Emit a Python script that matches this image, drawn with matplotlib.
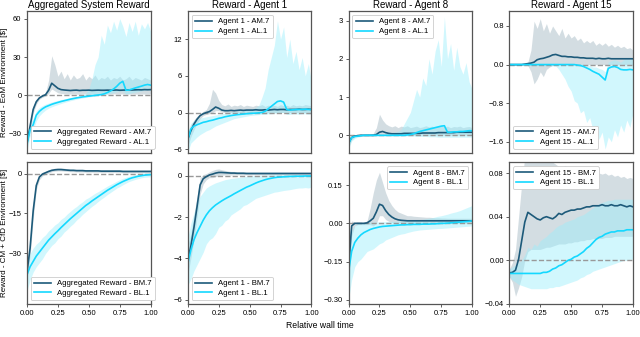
import matplotlib.pyplot as plt
import numpy as np

plt.rcParams['font.family'] = ['Liberation Sans', 'DejaVu Sans']

# relative wall time grid (41 samples)
x = np.linspace(0, 1, 41)

# ---- top row: EoM environment ----
agg_eom_am = [-37, -24, -11, -5, -2, -0.5, 0.5, 4, 9.5, 7.5, 5.5, 4.5, 4.2, 4, 3.8, 4, 4.1, 3.8, 4, 4,
              4.1, 3.9, 4, 4.1, 4, 4, 4.1, 4, 4.1, 4.2, 4, 4.1, 4.2, 4.3, 4.2, 4.3, 4.4, 4.3, 4.5, 4.4, 4.5]
agg_eom_am_lo = [-40, -28, -14, -7, -3, -1.5, -0.5, 1.5, 5, 3.5, 2, 1.5, 1.2, 1, 1, 1.2, 1, 0.8, 1, 1.2,
                 1, 1, 1.2, 1, 1, 1.2, 1, 1, 1.2, 1, 1, 1.2, 1, 1, 1.2, 1, 1, 1.2, 1, 1, 1.2]
agg_eom_am_hi = [-34, -20, -8, -3, -1, 0.5, 2, 12, 31, 24, 15, 19, 13, 17, 12, 16, 13, 14, 17, 12,
                 15, 13, 16, 12, 14, 13, 15, 12, 14, 13, 15, 12, 13, 15, 12, 14, 13, 12, 14, 13, 12]
agg_eom_al = [-38, -27, -23, -15.5, -12.5, -10.5, -9, -8, -7, -6.2, -5.5, -4.8, -4.2, -3.6, -3, -2.5, -2, -1.6, -1.2, -0.9,
              -0.6, -0.3, 0, 0.3, 0.6, 1.2, 2.2, 3.5, 5, 7, 9.5, 11, 4, 4.2, 5, 5.8, 6.5, 7.2, 8, 8.5, 8]
agg_eom_al_lo = [-43, -32, -27, -20, -16, -13.5, -11.5, -10, -9, -8, -7.2, -6.4, -5.6, -4.9, -4.2, -3.6, -3, -2.5, -2, -1.6,
                 -1.2, -0.9, -0.6, -0.3, 0, 0.4, 1, 1.6, 2.2, 3, 3.5, 3.5, 1, 1.5, 2, 2.5, 3, 3.5, 4, 4.5, 4]
agg_eom_al_hi = [-33, -22, -18, -12, -9.5, -8, -6.8, -6, -5.2, -4.5, -3.9, -3.3, -2.8, -2.2, -1.7, -1.2, -0.8, -0.4, 0.2, 1.5,
                 5, 13, 24, 30, 47, 40, 55, 49, 58, 51, 60, 54, 46, 57, 50, 58, 47, 56, 52, 57, 50]

a1_eom_am = [-4.3, -3, -1.9, -1.1, -0.5, -0.2, 0, 0.15, 0.5, 0.9, 0.7, 0.4, 0.3, 0.3, 0.35, 0.3, 0.35, 0.4, 0.35, 0.4,
             0.4, 0.4, 0.45, 0.4, 0.4, 0.45, 0.4, 0.45, 0.5, 0.45, 0.5, 0.5, 0.45, 0.5, 0.5, 0.5, 0.55, 0.5, 0.5, 0.55, 0.5]
a1_eom_am_lo = [-5.5, -4, -2.8, -1.8, -1, -0.5, -0.3, -0.2, 0, 0.3, 0.3, 0.1] + [0] * 29
a1_eom_am_hi = [-3.2, -2, -1.2, -0.6, -0.2, 0.2, 0.5, 1.5, 3.8, 3.2, 2, 1.3, 1.1, 1.4, 1, 1.2, 1.1, 1.3, 1, 1.2,
                1.1, 1, 1.2, 1.1, 1.3, 1, 1.2, 1.1, 1.2, 1, 1.3, 1.1, 1.2, 1, 1.3, 1.1, 1.2, 1.1, 1.3, 1.2, 1.1]
a1_eom_al = [-4.5, -2.7, -2.2, -2, -1.8, -1.6, -1.5, -1.35, -1.25, -1.1, -0.95, -0.85, -0.7, -0.6, -0.5, -0.42, -0.35, -0.3, -0.25, -0.2,
             -0.15, -0.12, -0.1, -0.05, 0, 0.2, 0.6, 1, 1.4, 1.8, 1.9, 1.7, 0.5, 0.4, 0.45, 0.5, 0.5, 0.5, 0.55, 0.5, 0.5]
a1_eom_al_lo = [-6.5, -5, -4.5, -4, -3.6, -3.3, -3, -2.8, -2.5, -2.2, -2, -1.8, -1.6, -1.4, -1.2, -1, -0.9, -0.8, -0.7, -0.6,
                -0.5, -0.45, -0.4, -0.35, -0.3, -0.3, -0.2, -0.2, -0.1, -0.1, 0, 0, -0.3, -0.3, -0.2, -0.2, -0.3, -0.2, -0.2, -0.3, -0.2]
a1_eom_al_hi = [-3, -1.8, -1.3, -1.1, -0.9, -0.8, -0.7, -0.6, -0.5, -0.4, -0.3, -0.2, -0.1, 0, 0.1, 0.15, 0.2, 0.25, 0.3, 0.4,
                0.5, 0.6, 0.8, 1.2, 2.5, 4, 7, 9, 11, 15, 12, 14, 9, 12, 8, 10, 7, 9, 6, 8, 5]

a8_eom_am = [-0.2, -0.06, -0.02, -0.01, 0, 0, 0, 0, 0, 0.02, 0.08, 0.1, 0.07, 0.05, 0.04, 0.04, 0.04, 0.04, 0.05, 0.05,
             0.05, 0.05, 0.05, 0.05, 0.06, 0.06, 0.06, 0.06, 0.06, 0.07, 0.07, 0.07, 0.07, 0.07, 0.07, 0.08, 0.08, 0.08, 0.08, 0.08, 0.08]
a8_eom_am_lo = [-0.3, -0.12, -0.05, -0.03, -0.02, -0.02, -0.02, -0.02, -0.02, -0.01, 0.02, 0.03, 0.02, 0.01] + [0] * 27
a8_eom_am_hi = [-0.1, -0.01, 0.01, 0.01, 0.02, 0.02, 0.02, 0.03, 0.05, 0.2, 0.55, 0.4, 0.3, 0.25, 0.22, 0.25, 0.2, 0.24, 0.22, 0.25,
                0.2, 0.22, 0.24, 0.2, 0.22, 0.25, 0.22, 0.24, 0.2, 0.23, 0.25, 0.22, 0.24, 0.2, 0.23, 0.22, 0.24, 0.2, 0.22, 0.23, 0.2]
a8_eom_al = [-0.22, -0.06, -0.03, -0.02, -0.01, 0, 0, 0, 0, 0, 0, 0, 0, 0, 0, 0, 0, 0, 0, 0.01,
             0.02, 0.04, 0.07, 0.1, 0.12, 0.14, 0.16, 0.18, 0.2, 0.22, 0.24, 0.25, 0.08, 0.08, 0.09, 0.09, 0.1, 0.1, 0.11, 0.12, 0.12]
a8_eom_al_lo = [-0.35, -0.15, -0.08, -0.05, -0.03] + [-0.02] * 17 + [-0.03] * 4 + [-0.04] * 3 + [-0.05] * 12
a8_eom_al_hi = [-0.1, 0.02, 0.02, 0.02, 0.02, 0.02, 0.02, 0.02, 0.02, 0.02, 0.02, 0.02, 0.03, 0.04, 0.05, 0.08, 0.1, 0.15, 0.3, 0.45,
                0.6, 0.9, 1.2, 1.0, 1.5, 1.3, 2.0, 1.6, 2.2, 2.5, 1.8, 3.1, 2.0, 2.4, 1.7, 2.3, 1.8, 1.6, 1.9, 1.4, 1.2]

a15_eom_am = [0, 0, 0, 0, 0, 0.01, 0.02, 0.03, 0.05, 0.1, 0.12, 0.13, 0.15, 0.17, 0.2, 0.21, 0.19, 0.17, 0.17, 0.16,
              0.16, 0.15, 0.15, 0.14, 0.14, 0.13, 0.13, 0.13, 0.12, 0.13, 0.12, 0.12, 0.13, 0.12, 0.12, 0.12, 0.12, 0.12, 0.12, 0.12, 0.12]
a15_eom_am_lo = [-0.01, -0.01, -0.01, -0.01, -0.01, -0.01, -0.02, -0.15, -0.4, -0.3, -0.15, -0.25, -0.1, -0.05, -0.02] + [0] * 26
a15_eom_am_hi = [0.01, 0.01, 0.01, 0.01, 0.01, 0.02, 0.05, 0.3, 0.9, 0.75, 0.95, 0.7, 0.85, 0.65, 0.8, 0.7, 0.6, 0.75, 0.55, 0.65,
                 0.55, 0.6, 0.5, 0.55, 0.45, 0.5, 0.45, 0.5, 0.4, 0.45, 0.4, 0.45, 0.38, 0.42, 0.36, 0.4, 0.35, 0.38, 0.33, 0.35, 0.3]
a15_eom_al = [0] * 22 + [-0.01, -0.02, -0.04, -0.07, -0.1, -0.14, -0.17, -0.2, -0.26, -0.32, -0.08, -0.05, -0.04, -0.06,
                         -0.1, -0.11, -0.11, -0.1, -0.11]
a15_eom_al_lo = [-0.02] * 15 + [-0.03, -0.1, -0.2, -0.3, -0.45, -0.55, -0.75, -0.8, -1.0, -0.95, -1.2, -1.1, -1.35, -1.3, -1.55,
                                -1.4, -1.75, -1.5, -1.6, -1.35, -1.5, -1.25, -1.4, -1.15, -1.3, -1.0]
a15_eom_al_hi = [0.02] * 24 + [0.01, 0, -0.02, -0.05, -0.05, -0.08, -0.1, -0.15, 0.05, 0.08, 0.1, 0.08, 0.05, 0.1, 0.12, 0.1, 0.15]

# ---- bottom row: CM + CfD environment ----
agg_cfd_bm = [-37, -28, -14, -4.5, -1.3, -0.2, 0.3, 0.8, 1.2, 1.4, 1.5, 1.5, 1.4, 1.3, 1.2, 1.2, 1.1, 1.1, 1.1, 1,
              1, 1, 1, 1, 0.9, 0.9, 0.9, 0.9, 0.9, 0.9, 0.9, 0.8, 0.8, 0.8, 0.8, 0.8, 0.8, 0.8, 0.8, 0.8, 0.8]
agg_cfd_bm_lo = [-40, -31, -17, -6, -2.3, -0.9, -0.3, 0.2, 0.7, 0.9, 1, 1, 0.9, 0.8, 0.7, 0.7, 0.6, 0.6, 0.6, 0.5,
                 0.5, 0.5, 0.5, 0.5, 0.4, 0.4, 0.4, 0.4, 0.4, 0.4, 0.4, 0.3, 0.3, 0.3, 0.3, 0.3, 0.3, 0.3, 0.3, 0.3, 0.3]
agg_cfd_bm_hi = [-34, -25, -11, -3, -0.5, 0.5, 0.9, 1.4, 1.8, 2, 2.1, 2.1, 2, 1.8, 1.7, 1.7, 1.6, 1.6, 1.6, 1.5,
                 1.5, 1.5, 1.5, 1.5, 1.4, 1.4, 1.4, 1.4, 1.4, 1.4, 1.4, 1.3, 1.3, 1.3, 1.3, 1.3, 1.3, 1.3, 1.3, 1.3, 1.3]
agg_cfd_bl = [-38, -35, -33, -31, -29.5, -28, -26.5, -25, -23.8, -22.6, -21.5, -20.3, -19.2, -18.1, -17, -16, -15, -14, -13, -12,
              -11.2, -10.3, -9.5, -8.7, -7.9, -7.1, -6.3, -5.6, -4.9, -4.2, -3.6, -3, -2.5, -2, -1.6, -1.3, -1, -0.8, -0.6, -0.5, -0.4]
agg_cfd_bl_lo = [-44, -40, -37, -35, -33.5, -32, -30, -28.5, -27, -26, -24.5, -23.5, -22, -21, -19.8, -18.8, -17.5, -16.5, -15.3, -14.3,
                 -13.3, -12.3, -11.5, -10.5, -9.6, -8.8, -7.9, -7.1, -6.3, -5.5, -4.9, -4.2, -3.6, -3, -2.6, -2.2, -1.9, -1.6, -1.4, -1.3, -1.2]
agg_cfd_bl_hi = [-33, -30, -28, -26.5, -25.5, -24, -23, -21.5, -20.5, -19.3, -18.5, -17.2, -16.4, -15.2, -14.2, -13.2, -12.4, -11.4, -10.6, -9.6,
                 -9, -8.2, -7.4, -6.8, -6.1, -5.4, -4.7, -4.1, -3.5, -2.9, -2.3, -1.8, -1.4, -1, -0.7, -0.4, -0.2, 0, 0.1, 0.2, 0.3]

a1_cfd_bm = [-4.1, -3.4, -2.5, -1.5, -0.45, -0.15, -0.05, 0.03, 0.07, 0.12, 0.15, 0.15, 0.14, 0.13, 0.12, 0.12, 0.11, 0.11, 0.11, 0.1] + [0.1] * 21
a1_cfd_bm_lo = [-4.8, -4, -3.1, -2, -0.9, -0.4, -0.2, -0.1, -0.1, -0.05, 0, 0.02, 0.03, 0.03, 0.03] + [0.04] * 26
a1_cfd_bm_hi = [-3.4, -2.8, -1.9, -1, -0.1, 0.05, 0.1, 0.18, 0.25, 0.3, 0.32, 0.28, 0.25, 0.22, 0.2, 0.2, 0.18, 0.18, 0.18] + [0.17] * 22
a1_cfd_bl = [-4.25, -3.6, -3.1, -2.75, -2.45, -2.15, -1.9, -1.7, -1.55, -1.42, -1.32, -1.22, -1.13, -1.05, -0.97, -0.88, -0.8, -0.72, -0.64, -0.56,
             -0.5, -0.43, -0.36, -0.3, -0.25, -0.2, -0.16, -0.13, -0.1, -0.08, -0.07, -0.06, -0.05, -0.04, -0.04, -0.03, -0.03, -0.03, -0.02, -0.02, -0.02]
a1_cfd_bl_lo = [-5.3, -5, -4.6, -4.3, -4, -3.7, -3.3, -3.1, -3, -2.8, -2.5, -2.4, -2.2, -2.1, -1.9, -1.8, -1.7, -1.6, -1.45, -1.4,
                -1.3, -1.2, -1.1, -1.05, -1, -0.95, -0.9, -0.85, -0.8, -0.78, -0.75, -0.72, -0.7, -0.68, -0.65, -0.62, -0.6, -0.6, -0.58, -0.6, -0.55]
a1_cfd_bl_hi = [-3, -2.3, -1.8, -1.3, -1, -0.8, -0.6, -0.5, -0.42, -0.35, -0.3, -0.25, -0.2, -0.17, -0.14, -0.12, -0.1, -0.08, -0.06, -0.04,
                -0.02, -0.01, 0, 0.01, 0.02, 0.03, 0.03, 0.04, 0.04] + [0.05] * 12

a8_cfd_bm = [-0.18, -0.01, 0, 0, 0, 0, 0.002, 0.01, 0.02, 0.045, 0.075, 0.07, 0.05, 0.035, 0.025, 0.018, 0.014, 0.012, 0.011, 0.01] + [0.01] * 21
a8_cfd_bm_lo = [-0.3, -0.05, -0.01, -0.005, -0.005, -0.005, -0.005, -0.005, -0.01, 0.0, 0.03, 0.03, 0.015, 0.008, 0.004, 0.002, 0.001] + [0] * 24
a8_cfd_bm_hi = [-0.08, 0.01, 0.005, 0.005, 0.005, 0.005, 0.01, 0.06, 0.12, 0.17, 0.2, 0.16, 0.12, 0.09, 0.07, 0.055, 0.045, 0.04, 0.035, 0.03,
                0.03, 0.028, 0.027, 0.026, 0.025, 0.024, 0.024, 0.023, 0.022, 0.022, 0.021, 0.021] + [0.02] * 9
a8_cfd_bl = [-0.19, -0.11, -0.075, -0.058, -0.045, -0.036, -0.03, -0.024, -0.02, -0.017, -0.014, -0.012, -0.011, -0.01, -0.009, -0.008, -0.007, -0.006, -0.006, -0.005,
             -0.005, -0.004, -0.004, -0.004, -0.003, -0.003, -0.003, -0.002, -0.002, -0.001, 0, 0, 0.001, 0.002, 0.003, 0.004, 0.005, 0.006, 0.007, 0.008, 0.01]
a8_cfd_bl_lo = [-0.3, -0.22, -0.17, -0.15, -0.14, -0.125, -0.11, -0.105, -0.1, -0.09, -0.08, -0.075, -0.065, -0.06, -0.055, -0.05, -0.045, -0.042, -0.04, -0.036,
                -0.033, -0.03, -0.028, -0.026, -0.025, -0.024, -0.023, -0.022, -0.021, -0.02, -0.02, -0.019, -0.018, -0.017, -0.016, -0.015, -0.014, -0.013, -0.012, -0.011, -0.01]
a8_cfd_bl_hi = [-0.1, -0.03, -0.01, 0, 0.002, 0.004, 0.005, 0.005, 0.005, 0.005, 0.006, 0.006, 0.007, 0.007, 0.008, 0.008, 0.009, 0.01, 0.01, 0.011,
                0.012, 0.013, 0.014, 0.015, 0.016, 0.018, 0.02, 0.022, 0.025, 0.028, 0.03, 0.033, 0.036, 0.04, 0.043, 0.046, 0.05, 0.055, 0.06, 0.065, 0.07]

a15_cfd_bm = [-0.0115, -0.011, -0.009, 0.001, 0.018, 0.035, 0.044, 0.042, 0.04, 0.038, 0.037, 0.039, 0.04, 0.039, 0.038, 0.04, 0.043, 0.042, 0.044, 0.045,
              0.046, 0.046, 0.047, 0.047, 0.048, 0.049, 0.049, 0.05, 0.05, 0.05, 0.051, 0.05, 0.05, 0.051, 0.05, 0.05, 0.051, 0.05, 0.049, 0.05, 0.049]
a15_cfd_bm_lo = [-0.015, -0.02, -0.033, -0.025, -0.015, 0, 0.008, 0.01, 0.01, 0.01, 0.01, 0.011, 0.012, 0.012, 0.013, 0.014, 0.015, 0.015, 0.015, 0.016,
                 0.016, 0.017, 0.017, 0.018, 0.018, 0.019, 0.019, 0.02, 0.02, 0.02, 0.02, 0.021, 0.021, 0.021] + [0.022] * 7
a15_cfd_bm_hi = [-0.008, -0.002, 0.01, 0.04, 0.07, 0.095, 0.1, 0.1, 0.1, 0.1, 0.095, 0.1, 0.1, 0.095, 0.09, 0.088, 0.086, 0.085, 0.087, 0.085,
                 0.084, 0.085, 0.083, 0.084, 0.082, 0.083, 0.081, 0.08, 0.082, 0.08, 0.079, 0.08, 0.078, 0.079, 0.077, 0.078, 0.076, 0.077, 0.075, 0.076, 0.075]
a15_cfd_bl = [-0.012] * 11 + [-0.011, -0.011, -0.01, -0.008, -0.007, -0.005, -0.004, -0.002, 0.0, 0.001, 0.003, 0.004, 0.006, 0.008, 0.011,
                              0.013, 0.016, 0.019, 0.021, 0.022, 0.024, 0.025, 0.026, 0.026, 0.027, 0.027, 0.027, 0.028, 0.028, 0.028]
a15_cfd_bl_lo = [-0.015, -0.018, -0.02, -0.022, -0.023, -0.024, -0.025, -0.026, -0.026, -0.026, -0.026, -0.026, -0.026, -0.025, -0.025, -0.024, -0.024, -0.023, -0.022, -0.021,
                 -0.02, -0.019, -0.018, -0.016, -0.015, -0.013, -0.012, -0.01, -0.009, -0.008, -0.007, -0.006, -0.005, -0.004, -0.003, -0.002, -0.001, 0, 0, 0.001, 0.001]
a15_cfd_bl_hi = [-0.008, -0.006, -0.004, -0.002, 0, 0.005, 0.012, 0.01, 0.015, 0.013, 0.018, 0.02, 0.022, 0.025, 0.027, 0.03, 0.032, 0.033, 0.035, 0.036,
                 0.037, 0.038, 0.04, 0.041, 0.042, 0.044, 0.046, 0.048, 0.05, 0.052, 0.053, 0.054, 0.055, 0.055] + [0.056] * 7

titles = ['Aggregated System Reward', 'Reward - Agent 1', 'Reward - Agent 8', 'Reward - Agent 15']
names = ['Aggregated Reward', 'Agent 1', 'Agent 8', 'Agent 15']
row_labels = ['Reward - EoM Environment [\\$]', 'Reward - CM + CfD Environment [\\$]']

DARK = '#1d5a7a'
CYAN = '#14d8ff'
DARK_FILL = '#bccbd3'
CYAN_FILL = '#9aeefc'

panels = [
    # (row, col, dark series, cyan series, dark tag, cyan tag, ylim, yticks, fmt, legend loc)
    (0, 0, (agg_eom_am, agg_eom_am_lo, agg_eom_am_hi), (agg_eom_al, agg_eom_al_lo, agg_eom_al_hi), 'AM.7', 'AL.1',
     (-45, 66), [-30, 0, 30, 60], '{:.0f}', 'lower left'),
    (0, 1, (a1_eom_am, a1_eom_am_lo, a1_eom_am_hi), (a1_eom_al, a1_eom_al_lo, a1_eom_al_hi), 'AM.7', 'AL.1',
     (-6.6, 16.6), [-6, 0, 6, 12], '{:.0f}', 'upper left'),
    (0, 2, (a8_eom_am, a8_eom_am_lo, a8_eom_am_hi), (a8_eom_al, a8_eom_al_lo, a8_eom_al_hi), 'AM.7', 'AL.1',
     (-0.46, 3.25), [0, 1, 2, 3], '{:.0f}', 'upper left'),
    (0, 3, (a15_eom_am, a15_eom_am_lo, a15_eom_am_hi), (a15_eom_al, a15_eom_al_lo, a15_eom_al_hi), 'AM.7', 'AL.1',
     (-1.83, 1.11), [-1.6, -0.8, 0.0, 0.8], '{:.1f}', 'lower left'),
    (1, 0, (agg_cfd_bm, agg_cfd_bm_lo, agg_cfd_bm_hi), (agg_cfd_bl, agg_cfd_bl_lo, agg_cfd_bl_hi), 'BM.7', 'BL.1',
     (-49, 4.3), [-30, -15, 0], '{:.0f}', 'lower left'),
    (1, 1, (a1_cfd_bm, a1_cfd_bm_lo, a1_cfd_bm_hi), (a1_cfd_bl, a1_cfd_bl_lo, a1_cfd_bl_hi), 'BM.7', 'BL.1',
     (-6.2, 0.65), [-6, -4, -2, 0], '{:.0f}', 'lower left'),
    (1, 2, (a8_cfd_bm, a8_cfd_bm_lo, a8_cfd_bm_hi), (a8_cfd_bl, a8_cfd_bl_lo, a8_cfd_bl_hi), 'BM.7', 'BL.1',
     (-0.316, 0.24), [-0.30, -0.15, 0.00, 0.15], '{:.2f}', 'upper right'),
    (1, 3, (a15_cfd_bm, a15_cfd_bm_lo, a15_cfd_bm_hi), (a15_cfd_bl, a15_cfd_bl_lo, a15_cfd_bl_hi), 'BM.7', 'BL.1',
     (-0.039, 0.09), [-0.04, 0.00, 0.04, 0.08], '{:.2f}', 'upper left'),
]

fig, axes = plt.subplots(2, 4, figsize=(6.4, 3.37), dpi=100)
fig.subplots_adjust(left=27/640, right=633/640, top=1-11/337, bottom=1-304/337, wspace=0.3, hspace=0.065)

for row, col, dark, cyan, dtag, ctag, ylim, yticks, fmt, loc in panels:
    ax = axes[row, col]
    ax.fill_between(x, dark[1], dark[2], color=DARK_FILL, alpha=0.65, lw=0)
    ax.fill_between(x, cyan[1], cyan[2], color=CYAN_FILL, alpha=0.45, lw=0)
    ax.axhline(0, color='#999999', ls='--', lw=1, zorder=1)
    ax.plot(x, dark[0], color=DARK, lw=1.2, label=f'{names[col]} - {dtag}')
    ax.plot(x, cyan[0], color=CYAN, lw=1.2, label=f'{names[col]} - {ctag}')
    ax.set_xlim(0, 1)
    ax.set_ylim(*ylim)
    ax.set_yticks(yticks)
    ax.set_yticklabels([fmt.format(v).replace('-', '\u2212') for v in yticks])
    ax.tick_params(labelsize=5.5, length=2.5, width=0.6, pad=1.5, color='#444444')
    if row == 0:
        ax.set_title(titles[col], fontsize=7, pad=2.5)
        ax.tick_params(axis='x', bottom=False, labelbottom=False)
    else:
        ax.set_xticks([0, 0.25, 0.5, 0.75, 1.0])
        ax.set_xticklabels(['0.00', '0.25', '0.50', '0.75', '1.00'])
    for s in ax.spines.values():
        s.set_color('#555555')
        s.set_linewidth(0.9)
    leg = ax.legend(loc=loc, fontsize=5.6, handlelength=2.2, borderpad=0.4, labelspacing=0.3, framealpha=1)
    leg.get_frame().set_edgecolor('#cccccc')
    leg.get_frame().set_linewidth(0.6)

# row labels, placed in figure pixels like the original
for row, label in enumerate(row_labels):
    pos = axes[row, 0].get_position()
    fig.text(5/640, (pos.y0 + pos.y1) / 2, label, rotation=90, ha='center', va='center', fontsize=5.8)
fig.text(0.5, 1-325/337, 'Relative wall time', ha='center', va='center', fontsize=6.2)

fig.savefig('out.png', dpi=100)
